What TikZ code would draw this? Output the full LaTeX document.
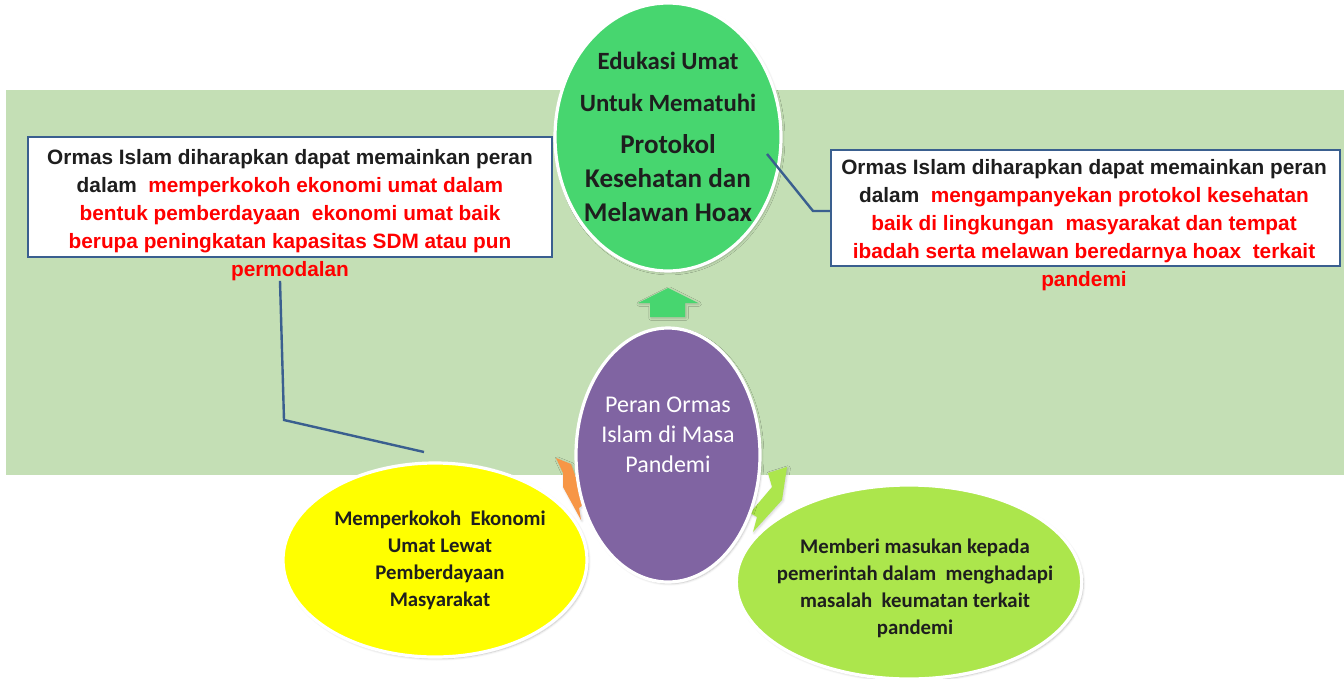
\documentclass[tikz,border=0pt]{standalone}
\usepackage{fontspec}
\usepackage{xcolor}
\usetikzlibrary{shapes}
\usetikzlibrary{fit}
\usetikzlibrary{shadows.blur}
\newfontfamily\calibrifont{Carlito}
\newfontfamily\arialfont{Liberation Sans}
\definecolor{panelgreen}{RGB}{196,223,181}
\definecolor{edugreen}{RGB}{71,214,111}
\definecolor{perangrape}{RGB}{128,100,162}
\definecolor{ekoyellow}{RGB}{255,255,0}
\definecolor{masukanlime}{RGB}{172,230,76}
\definecolor{arroworange}{RGB}{247,150,70}
\definecolor{linkblue}{RGB}{58,95,143}
\definecolor{alertred}{RGB}{255,0,0}
\definecolor{inkdark}{RGB}{30,30,30}
\newcommand{\redtxt}[1]{\textcolor{alertred}{#1}}

\begin{document}
\begin{tikzpicture}[x=0.75pt,y=0.75pt,yscale=-1,xscale=1,
  bubble/.style={ellipse, draw=white, line width=2.4pt, inner sep=0pt,
    blur shadow={shadow blur steps=6, shadow xshift=1.2pt, shadow yshift=-1.2pt, shadow opacity=25}},
  notebox/.style={draw=linkblue, line width=1.8pt, fill=white, inner sep=0pt},
  notetext/.style={align=center, text=inkdark, inner sep=0pt,
    font=\arialfont\bfseries\fontsize{15.6}{21}\selectfont},
  bubbletext/.style={align=center, text=inkdark, inner sep=0pt,
    font=\calibrifont\bfseries\fontsize{15.6}{20.2}\selectfont},
  link/.style={draw=linkblue, line width=1.8pt},
  pointer/.style={blur shadow={shadow blur steps=4, shadow xshift=0.8pt, shadow yshift=-0.8pt, shadow opacity=18}}]
\useasboundingbox (0,0) rectangle (1344,678);

%Shapes
\fill [panelgreen] (6,90) rectangle (1344,475);

%Shapes
\node [notebox, fit={(28,137) (552,257)}] (lbox) {};
\node [notebox, fit={(831,150) (1340,266)}] (rbox) {};

%Shapes
\node [bubble, fill=edugreen, minimum width=169.5pt, minimum height=201pt] (edu) at (668,137) {};
\fill [edugreen, pointer] (668,288) -- (698,303) -- (685,303) -- (685,317) -- (650,317) -- (650,303) -- (638,303) -- cycle;
\fill [arroworange, pointer] (556,458) -- (571,464) -- (585,503) -- (579,508) -- (581,520) -- (563,487) -- (563,473) -- cycle;
\fill [masukanlime, pointer] (787,467) -- (782,500) -- (753,532) -- (757,517) -- (750,513) -- (772,487) -- (768,473) -- cycle;
\node [bubble, fill=perangrape, minimum width=138pt, minimum height=190.5pt] (peran) at (668,455) {};
\node [bubble, fill=ekoyellow, minimum width=228pt, minimum height=145.5pt] (ekonomi) at (435,560) {};
\node [bubble, fill=masukanlime, minimum width=259pt, minimum height=145.5pt] (masukan) at (909,582) {};

% Text Node
\node [notetext] (ltext) at (290,215) {Ormas Islam diharapkan dapat memainkan peran\\
  dalam\ \ \redtxt{memperkokoh ekonomi umat dalam}\\
  \redtxt{bentuk pemberdayaan\ \ ekonomi umat baik}\\
  \redtxt{berupa peningkatan kapasitas SDM atau pun}\\
  \redtxt{permodalan}};
% Text Node
\node [notetext] (rtext) at (1084,225) {Ormas Islam diharapkan dapat memainkan peran\\
  dalam\ \ \redtxt{mengampanyekan protokol kesehatan}\\
  \redtxt{baik di lingkungan\ \ masyarakat dan tempat}\\
  \redtxt{ibadah serta melawan beredarnya hoax\ \ terkait}\\
  \redtxt{pandemi}};
% Text Node
\node [bubbletext, font=\calibrifont\bfseries\fontsize{20.3}{25.5}\selectfont] (edutext) at (edu.center)
  {{\fontsize{18.6}{25.5}\selectfont Edukasi Umat}\\[5.5pt]
   {\fontsize{18.6}{25.5}\selectfont Untuk Mematuhi}\\[6pt]
   Protokol\\ Kesehatan dan\\ Melawan Hoax};
% Text Node
\node [align=center, text=white, font=\calibrifont\fontsize{18}{22.5}\selectfont] (perantext) at (668,435)
  {Peran Ormas\\ Islam di Masa\\ Pandemi};
% Text Node
\node [bubbletext] (ekonomitext) at (440,560) {Memperkokoh\ \ Ekonomi\\ Umat Lewat\\ Pemberdayaan\\ Masyarakat};
% Text Node
\node [bubbletext] (masukantext) at (915,588) {Memberi masukan kepada\\ pemerintah dalam\ \ menghadapi\\ masalah\ \ keumatan terkait\\ pandemi};

%Straight Lines
\coordinate (lbend) at (284,420);
\coordinate (lend) at (424,452);
\draw [link] (ltext.south -| 280,0) -- (lbend) -- (lend);
%Straight Lines
\coordinate (rstart) at (767,154);
\coordinate (rbend) at (813,211);
\draw [link] (rstart) -- (rbend) -- (rbend -| rbox.west);

\end{tikzpicture}
\end{document}
